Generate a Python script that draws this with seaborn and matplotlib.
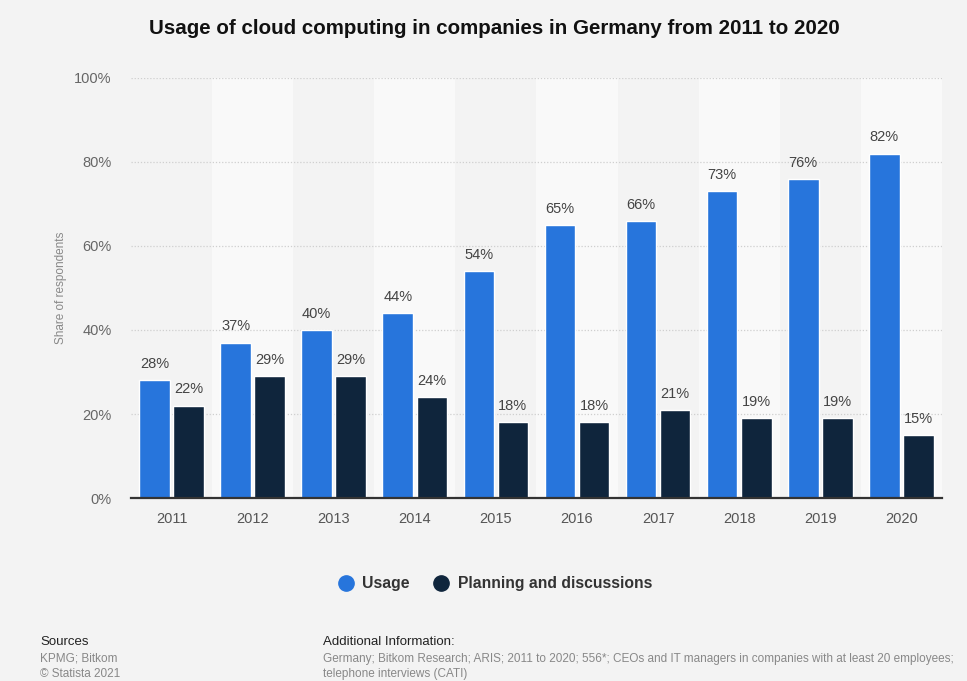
import matplotlib
matplotlib.use("Agg")
import matplotlib.pyplot as plt
from matplotlib.lines import Line2D
import seaborn as sns
import pandas as pd

years = ["2011", "2012", "2013", "2014", "2015", "2016", "2017", "2018", "2019", "2020"]
usage = [28, 37, 40, 44, 54, 65, 66, 73, 76, 82]
planning = [22, 29, 29, 24, 18, 18, 21, 19, 19, 15]
series_names = ["Usage", "Planning and discussions"]
y_ticks = [0, 20, 40, 60, 80, 100]

BG = "#f3f3f3"
BAND = "#f9f9f9"
BLUE = "#2775dc"
NAVY = "#0f253c"

df = pd.DataFrame({
    "year": years * 2,
    "value": usage + planning,
    "series": [series_names[0]] * len(years) + [series_names[1]] * len(years),
})

sns.set_theme(style="white")
plt.rcParams["font.family"] = ["Liberation Sans", "DejaVu Sans"]

fig = plt.figure(figsize=(9.67, 6.81), dpi=100, facecolor=BG)
ax = fig.add_axes([0.1355, 0.2687, 0.8385, 0.6168])
ax.set_facecolor(BG)

# alternating column bands
for i in range(len(years)):
    if i % 2 == 1:
        ax.axvspan(i - 0.5, i + 0.5, color=BAND, zorder=0, lw=0)

sns.barplot(data=df, x="year", y="value", hue="series",
            palette=[BLUE, NAVY], width=0.84, gap=0.1,
            legend=False, ax=ax, zorder=3, saturation=1)

ax.set_ylim(0, 100)
ax.set_xlim(-0.5, len(years) - 0.5)
ax.set_yticks(y_ticks)
ax.set_yticklabels([f"{t}%" for t in y_ticks], color="#666666", fontsize=10.5)
ax.tick_params(axis="y", length=0, pad=14)
ax.tick_params(axis="x", length=0, pad=10, labelsize=10.5, labelcolor="#555555")
ax.set_xlabel("")
ax.set_ylabel("Share of respondents", color="#888888", fontsize=8.5, labelpad=5)

for t in y_ticks[1:]:
    ax.axhline(t, color="#cfcfcf", lw=0.9, ls=(0, (1, 1.5)), zorder=1)

for side in ["top", "right", "left"]:
    ax.spines[side].set_visible(False)
ax.spines["bottom"].set_color("#333333")
ax.spines["bottom"].set_linewidth(1.6)
ax.spines["bottom"].set_zorder(5)

for cont in ax.containers:
    for bar in cont:
        h = bar.get_height()
        ax.text(bar.get_x() + bar.get_width() / 2, h + 2.2, f"{h:.0f}%",
                ha="center", va="bottom", fontsize=10.5, color="#444444", zorder=6)

fig.text(0.511, 0.958, "Usage of cloud computing in companies in Germany from 2011 to 2020",
         ha="center", va="center", fontsize=14.8, fontweight="bold", color="#111111")

handles = [Line2D([0], [0], marker="o", ls="", markersize=11, markerfacecolor=c,
                  markeredgecolor=c) for c in (BLUE, NAVY)]
leg = fig.legend(handles, series_names, loc="center", bbox_to_anchor=(0.508, 0.143),
                 ncol=2, frameon=False, handletextpad=0.05, columnspacing=1.0,
                 prop={"weight": "bold", "size": 11.3})
for txt in leg.get_texts():
    txt.set_color("#333333")

fig.text(0.0414, 0.057, "Sources", fontsize=9.5, color="#222222", va="center")
fig.text(0.0414, 0.033, "KPMG; Bitkom", fontsize=8.5, color="#888888", va="center")
fig.text(0.0414, 0.010, "© Statista 2021", fontsize=8.5, color="#888888", va="center")
fig.text(0.334, 0.057, "Additional Information:", fontsize=9.5, color="#222222", va="center")
fig.text(0.334, 0.033,
         "Germany; Bitkom Research; ARIS; 2011 to 2020; 556*; CEOs and IT managers in companies with at least 20 employees;",
         fontsize=8.5, color="#888888", va="center")
fig.text(0.334, 0.010, "telephone interviews (CATI)", fontsize=8.5, color="#888888", va="center")

fig.savefig("out.png", dpi=100, facecolor=BG)
